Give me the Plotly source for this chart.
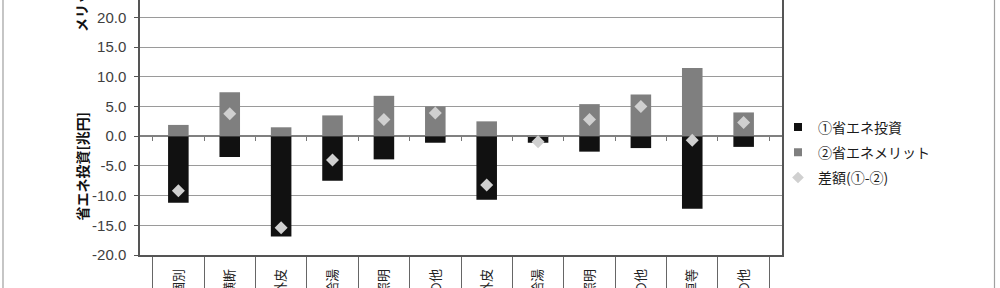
import plotly.graph_objects as go

categories = ["産業_業種個別", "産業_業種横断", "家庭_外皮", "家庭_給湯", "家庭_照明", "家庭_その他",
              "業務_外皮", "業務_給湯", "業務_照明", "業務_その他", "運輸_自動車等", "運輸_その他"]
investment = [-11.2, -3.5, -16.9, -7.5, -3.9, -1.1, -10.7, -1.1, -2.6, -2.0, -12.2, -1.8]
merit = [1.9, 7.4, 1.5, 3.5, 6.8, 5.0, 2.5, 0.15, 5.4, 7.0, 11.5, 4.0]
difference = [-9.2, 3.8, -15.4, -4.0, 2.8, 3.9, -8.2, -0.95, 2.8, 5.0, -0.7, 2.3]
y_ticks = [-20, -15, -10, -5, 0, 5, 10, 15, 20]
y_tick_labels = ["-20.0", "-15.0", "-10.0", "-5.0", "0.0", "5.0", "10.0", "15.0", "20.0"]
legend_names = ["①省エネ投資", "②省エネメリット", "差額(①-②)"]

W, H = 1000, 288
ML, MR, MT, MB = 140, 218, 0, 33
PW, PH = W - ML - MR, H - MT - MB
Y_MIN = -20
Y_MAX = 22.93

BLACK = "#111111"
GRAY = "#7f7f7f"
LIGHT = "#d0d0d0"
JP = "Noto Sans CJK JP"

fig = go.Figure()
fig.add_trace(go.Bar(x=categories, y=investment, marker=dict(color=BLACK, line=dict(width=0)),
                     showlegend=False, name=legend_names[0]))
fig.add_trace(go.Bar(x=categories, y=merit, marker=dict(color=GRAY, line=dict(width=0)),
                     showlegend=False, name=legend_names[1]))
fig.add_trace(go.Scatter(x=categories, y=difference, mode="markers", xaxis="x2",
                         marker=dict(symbol="diamond", size=10, color=LIGHT),
                         showlegend=False, name=legend_names[2]))

# legend-only entries
for nm, sym, col, sz, grp in [(legend_names[0], "square", BLACK, 8, "a"),
                              (legend_names[1], "square", GRAY, 8, "b"),
                              (legend_names[2], "diamond", LIGHT, 9, "c")]:
    fig.add_trace(go.Scatter(x=[None], y=[None], mode="markers", name=nm, legendgroup=grp,
                             marker=dict(symbol=sym, size=sz, color=col)))

def px_x(p):
    return (p - ML) / PW

def px_y(p):
    return (H - MB - p) / PH

fig.update_layout(
    width=W, height=H,
    margin=dict(l=ML, r=MR, t=MT, b=MB),
    paper_bgcolor="white", plot_bgcolor="white",
    barmode="relative", bargap=0.6,
    font=dict(family="Liberation Sans, " + JP, size=14, color="#333333"),
    xaxis=dict(type="category", showline=True, linecolor="#555555", linewidth=1.5,
               ticks="outside", ticklen=33, tickcolor="#666666", tickwidth=1,
               tickson="boundaries", tickangle=-90, ticklabelstandoff=7,
               tickfont=dict(family=JP, size=13, color="#222222"),
               showgrid=False, automargin=False, fixedrange=True),
    xaxis2=dict(type="category", overlaying="x", matches="x", anchor="free",
                position=(0 - Y_MIN) / (Y_MAX - Y_MIN), side="bottom",
                ticks="outside", ticklen=4, tickcolor="#777777", tickwidth=1,
                tickson="boundaries", showticklabels=False, showline=False, showgrid=False),
    yaxis=dict(range=[Y_MIN, Y_MAX], tickvals=y_ticks, ticktext=y_tick_labels,
               showline=True, mirror=True, linecolor="#555555", linewidth=1.5,
               ticks="outside", ticklen=4, tickcolor="#555555",
               ticklabelstandoff=5,
               tickfont=dict(family="Liberation Sans", size=15, color="#404040"),
               showgrid=True, gridcolor="#9a9a9a", gridwidth=1.2,
               zeroline=True, zerolinecolor="#808080", zerolinewidth=1.5,
               automargin=False),
    legend=dict(x=px_x(778), xanchor="left", y=px_y(152.5), yanchor="middle",
                bgcolor="rgba(0,0,0,0)", tracegroupgap=4,
                font=dict(family=JP, size=14, color="#1a1a1a")),
    annotations=[
        dict(text="省エネ投資[兆円]", xref="paper", yref="paper", x=px_x(81), y=px_y(166.5),
             xanchor="center", yanchor="middle", textangle=-90, showarrow=False,
             font=dict(family=JP, size=14, color="#111111", weight="bold")),
        dict(text="メリット[兆円]", xref="paper", yref="paper", x=px_x(81), y=px_y(-15),
             xanchor="center", yanchor="middle", textangle=-90, showarrow=False,
             font=dict(family=JP, size=14, color="#111111", weight="bold")),
    ],
    shapes=[
        dict(type="rect", xref="paper", yref="paper", x0=px_x(3), x1=px_x(994.5),
             y0=-0.5, y1=1.5, line=dict(color="#a0a0a0", width=1.2), layer="below"),
    ],
)

fig.write_html("out.html")
